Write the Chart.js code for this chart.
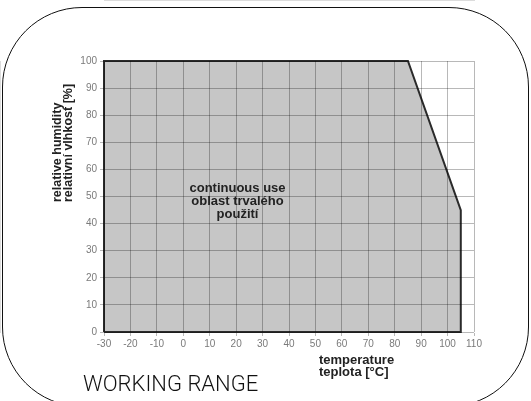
<!DOCTYPE html>
<html><head><meta charset="utf-8">
<script src="https://cdn.jsdelivr.net/npm/chart.js@4/dist/chart.umd.min.js"></script>
<style>
html,body{margin:0;padding:0;background:#fff;overflow:hidden;width:531px;height:401px}
#wrap{position:relative;width:531px;height:401px;overflow:hidden}
#frame{position:absolute;left:2px;top:7px;width:527px;height:400px;border:1.5px solid #111;border-radius:80px;box-sizing:border-box}
canvas{position:absolute;left:0;top:0}
</style></head>
<body><div id="wrap"><div id="frame"></div><canvas id="c" width="531" height="401"></canvas></div>
<script>
// Working range polygon (temperature °C, relative humidity %)
const temperature = [-30, -30, 85, 105, 105, -30];
const humidity    = [0, 100, 100, 45, 0, 0];
const xTickLabels = [-30, -20, -10, 0, 10, 20, 30, 40, 50, 60, 70, 80, 90, 100, 110];
const yTickLabels = [0, 10, 20, 30, 40, 50, 60, 70, 80, 90, 100];
const yTitle = ['relative humidity', 'relativní vlhkost [%]'];
const xTitle = ['temperature', 'teplota [°C]'];
const areaLabel = ['continuous use', 'oblast trvalého', 'použití'];
const chartTitle = 'WORKING RANGE';

const points = temperature.map((t, i) => ({x: t, y: humidity[i]}));

const textPlugin = {
  id: 'texts',
  afterDraw(chart) {
    const ctx = chart.ctx;
    const a = chart.chartArea;
    ctx.save();
    ctx.fillStyle = '#222';
    ctx.font = 'bold 12.5px "Liberation Sans", Arial, sans-serif';
    ctx.textBaseline = 'middle';
    ctx.textAlign = 'left';
    yTitle.forEach((s, i) => {
      ctx.save();
      ctx.translate(a.left - 46 + i * 11, 202);
      ctx.rotate(-Math.PI / 2);
      ctx.fillText(s, 0, 0);
      ctx.restore();
    });
    ctx.font = 'bold 13px "Liberation Sans", Arial, sans-serif';
    ctx.textAlign = 'left';
    xTitle.forEach((s, i) => ctx.fillText(s, 319, 360 + i * 12.5));
    ctx.textAlign = 'center';
    areaLabel.forEach((s, i) => ctx.fillText(s, 237.5, 188.5 + i * 12.8));
    ctx.font = '300 22px Roboto, "Liberation Sans", sans-serif';
    ctx.fillStyle = '#111';
    ctx.textAlign = 'left';
    ctx.textBaseline = 'alphabetic';
    ctx.fillText(chartTitle, 83, 391, 179);
    ctx.restore();
  }
};

new Chart(document.getElementById('c'), {
  type: 'scatter',
  data: {
    datasets: [{
      data: points,
      showLine: true,
      fill: 'shape',
      clip: 4,
      backgroundColor: '#c6c6c6',
      borderColor: '#2a2a2a',
      borderWidth: 2,
      pointRadius: 0,
      tension: 0
    }]
  },
  options: {
    responsive: false,
    animation: false,
    devicePixelRatio: 1,
    layout: {padding: {top: 61, right: 57, left: 0, bottom: 0}},
    plugins: {legend: {display: false}, tooltip: {enabled: false}},
    scales: {
      x: {
        type: 'linear', min: -30, max: 110,
        afterBuildTicks: s => { s.ticks = xTickLabels.map(v => ({value: v})); },
        afterFit: s => { s.height = 69; },
        grid: {z: 1, color: 'rgba(0,0,0,0.28)', lineWidth: 1, tickLength: 4, drawTicks: true},
        border: {color: 'rgba(0,0,0,0.28)'},
        ticks: {color: '#7a7a7a', font: {family: '"Liberation Sans", Arial, sans-serif', size: 10}, padding: 2, maxRotation: 0, autoSkip: false}
      },
      y: {
        type: 'linear', min: 0, max: 100,
        afterBuildTicks: s => { s.ticks = yTickLabels.map(v => ({value: v})); },
        afterFit: s => { s.width = 104; },
        grid: {z: 1, color: 'rgba(0,0,0,0.28)', lineWidth: 1, tickLength: 4, drawTicks: true},
        border: {color: 'rgba(0,0,0,0.28)'},
        ticks: {color: '#7a7a7a', font: {family: '"Liberation Sans", Arial, sans-serif', size: 10}, padding: 3, autoSkip: false}
      }
    }
  },
  plugins: [textPlugin]
});
</script>
</body></html>
